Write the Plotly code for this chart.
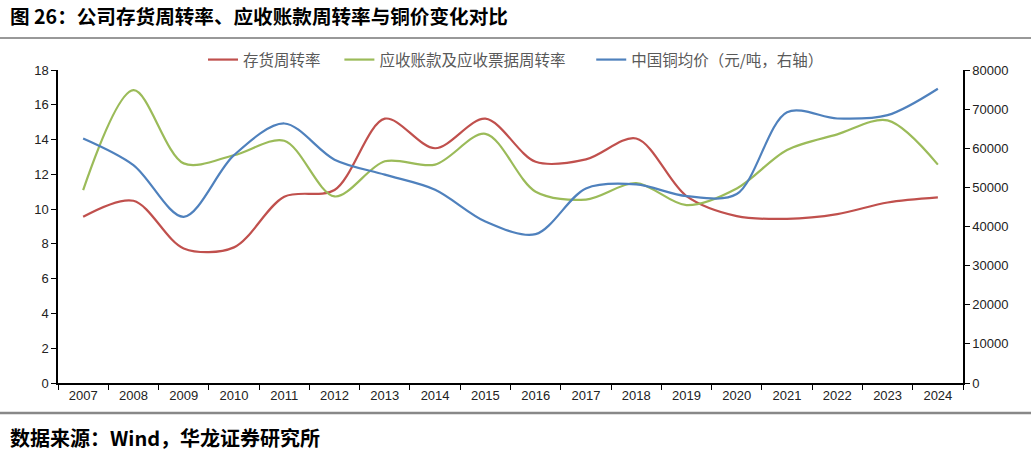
import plotly.graph_objects as go

years = [str(y) for y in range(2007, 2025)]
inventory_turnover = [9.56, 10.48, 7.74, 7.8, 10.71, 11.1, 15.2, 13.5, 15.2, 12.72, 12.86, 14.06, 10.75, 9.6, 9.44, 9.71, 10.38, 10.67]
receivable_turnover = [11.09, 16.84, 12.63, 13.1, 13.93, 10.73, 12.75, 12.56, 14.33, 11.0, 10.55, 11.5, 10.23, 11.19, 13.4, 14.3, 15.1, 12.56]
copper_price = [62500, 55700, 42480, 58230, 66330, 57090, 53250, 49400, 41280, 38050, 49730, 50750, 47770, 48300, 69230, 67600, 68460, 75210]

left_ticks = list(range(0, 19, 2))
right_ticks = list(range(0, 80001, 10000))
right_labels = [str(v) for v in right_ticks]

font_fam = "Liberation Sans, Arial, sans-serif"
cjk = "Noto Sans CJK SC"

fig = go.Figure()
fig.add_trace(go.Scatter(x=years, y=inventory_turnover, name="存货周转率" + "\u00a0" * 4, mode="lines",
                         line=dict(color="#C0504D", width=2.2, shape="spline", smoothing=0.9)))
fig.add_trace(go.Scatter(x=years, y=receivable_turnover, name="应收账款及应收票据周转率" + "\u00a0" * 6, mode="lines",
                         line=dict(color="#9BBB59", width=2.2, shape="spline", smoothing=0.9)))
fig.add_trace(go.Scatter(x=years, y=copper_price, name="中国铜均价（元/吨，右轴）", mode="lines", yaxis="y2",
                         line=dict(color="#4F81BD", width=2.2, shape="spline", smoothing=0.9)))

PW, PH = 905, 313

fig.update_layout(
    width=1031, height=454,
    margin=dict(l=58, r=68, t=70, b=71, autoexpand=False),
    paper_bgcolor="white", plot_bgcolor="white",
    font=dict(family=font_fam, size=13, color="#222"),
    showlegend=True,
    legend=dict(orientation="h", x=(203-58)/PW, y=1 + (70-60)/PH, xanchor="left", yanchor="middle",
                font=dict(family=cjk, size=15.5, color="#595959"), bgcolor="rgba(0,0,0,0)",
                itemwidth=30, tracegroupgap=0),
    xaxis=dict(type="category", range=[-0.5, 17.5], showline=True, linecolor="black", linewidth=1.5,
               ticks="outside", tickson="boundaries", ticklen=5, tickcolor="black",
               showgrid=False, zeroline=False, tickfont=dict(size=13, color="#222"), automargin=False),
    yaxis=dict(range=[0, 18], tickvals=left_ticks, showline=True, linecolor="black", linewidth=1.5,
               ticks="outside", ticklen=5, tickcolor="black", showgrid=False, zeroline=False,
               tickfont=dict(size=13, color="#222"), automargin=False),
    yaxis2=dict(range=[0, 80000], tickvals=right_ticks, ticktext=right_labels, overlaying="y", side="right",
                showline=True, linecolor="black", linewidth=1.5, ticks="outside", ticklen=5,
                tickcolor="black", showgrid=False, zeroline=False, tickfont=dict(size=13, color="#222"),
                automargin=False),
)

fig.add_annotation(text="<b>图 26：公司存货周转率、应收账款周转率与铜价变化对比</b>", xref="paper", yref="paper",
                   x=-50/PW, y=1 + (70 - 16) / PH, xanchor="left", yanchor="middle", showarrow=False,
                   font=dict(family=cjk, size=19.6, color="black"))
fig.add_annotation(text="<b>数据来源：Wind，华龙证券研究所</b>", xref="paper", yref="paper",
                   x=-50/PW, y=-(437 - 383) / PH, xanchor="left", yanchor="middle", showarrow=False,
                   font=dict(family=cjk, size=20, color="black"))

fig.add_shape(type="line", xref="paper", yref="paper", x0=-58/PW, x1=(1031-58)/PW,
              y0=1 + (70-38)/PH, y1=1 + (70-38)/PH, line=dict(color="#333", width=1))
fig.add_shape(type="line", xref="paper", yref="paper", x0=-58/PW, x1=(1031-58)/PW,
              y0=-(413-383)/PH, y1=-(413-383)/PH, line=dict(color="#888", width=2.5))

fig.write_html("out.html", post_script="document.body.style.margin='0';",
               config={"displayModeBar": False})
